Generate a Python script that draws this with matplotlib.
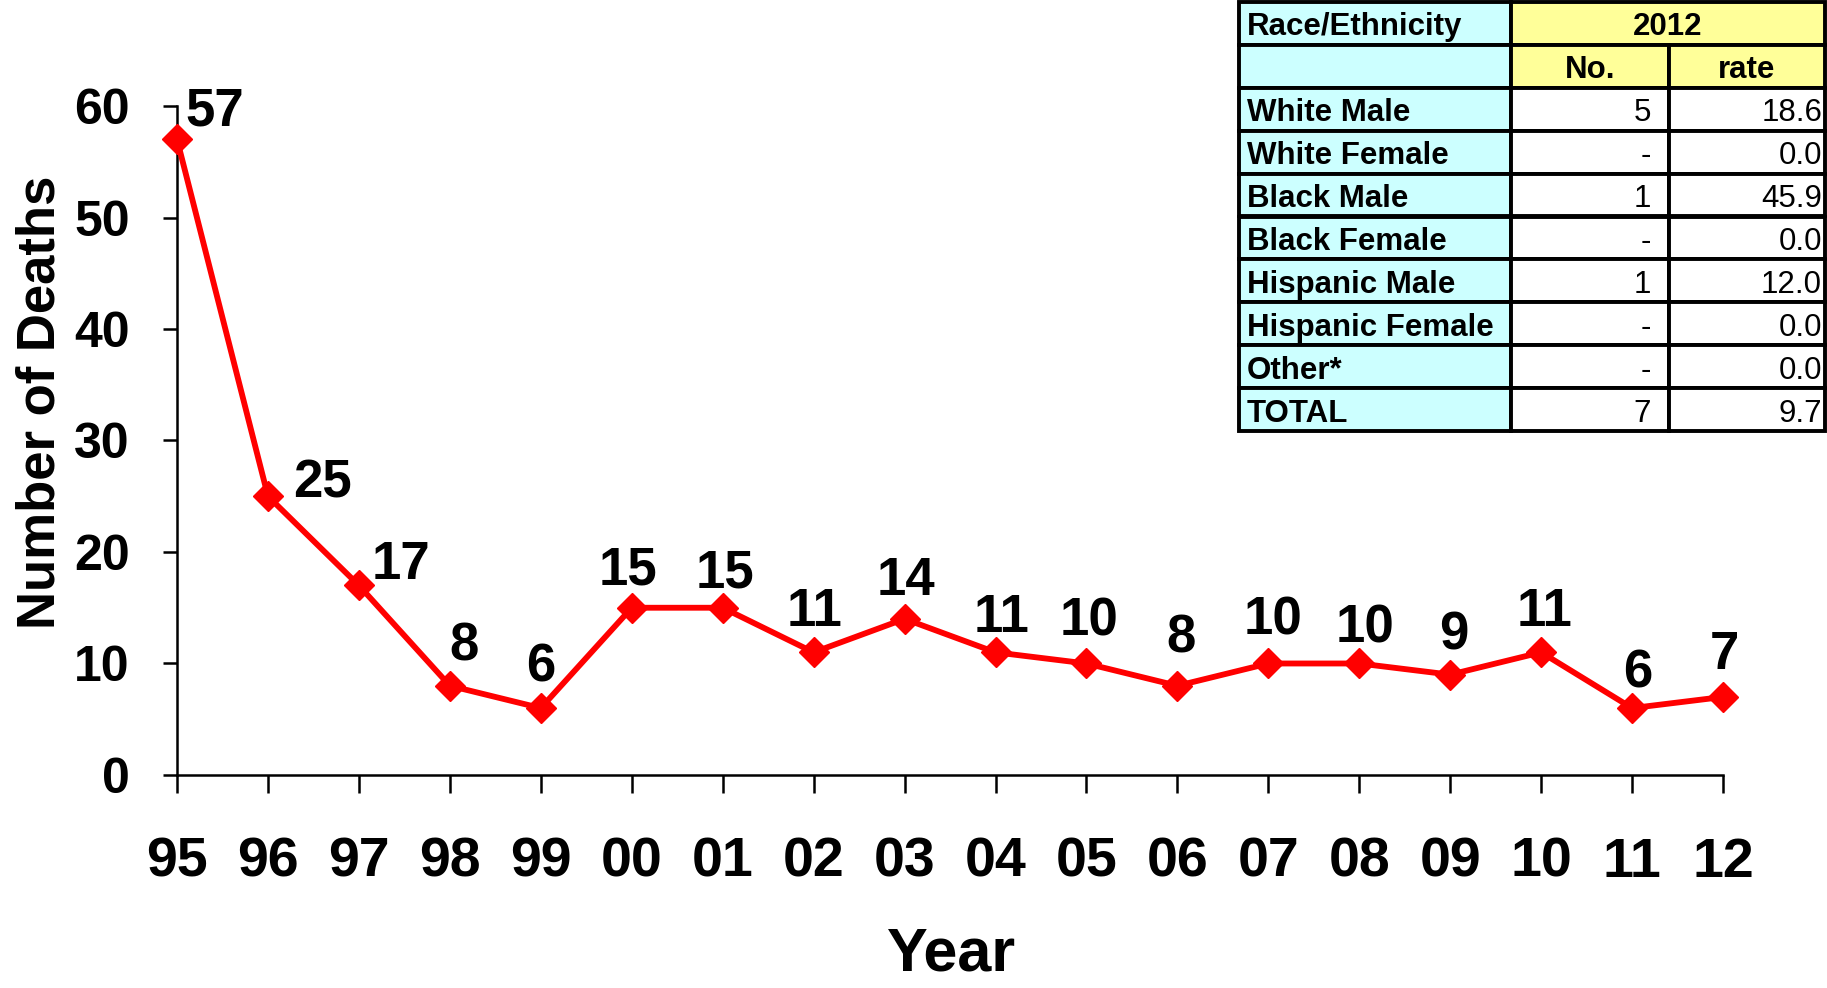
import matplotlib.pyplot as plt
from matplotlib.patches import Rectangle

plt.rcParams['font.family'] = ['Liberation Sans', 'DejaVu Sans']
plt.rcParams['font.weight'] = 'bold'

# data
years = ['95', '96', '97', '98', '99', '00', '01', '02', '03',
         '04', '05', '06', '07', '08', '09', '10', '11', '12']
deaths = [57, 25, 17, 8, 6, 15, 15, 11, 14, 11, 10, 8, 10, 10, 9, 11, 6, 7]

# table (2012)
groups = ['White Male', 'White Female', 'Black Male', 'Black Female',
          'Hispanic Male', 'Hispanic Female', 'Other*', 'TOTAL']
counts = ['5', '-', '1', '-', '1', '-', '-', '7']
rates = [18.6, 0.0, 45.9, 0.0, 12.0, 0.0, 0.0, 9.7]

# label offsets (points) for the point labels
offsets = [(27, 20), (39, 9), (30, 15), (10, 28), (0, 29), (-3, 27),
           (2, 25), (1, 29), (1, 27), (4, 25), (2, 30), (3, 34),
           (3, 31), (4, 25), (2.5, 28), (2.5, 29), (4, 25), (1, 30)]

fig = plt.figure(figsize=(18.27, 9.88), dpi=100)
ax = fig.add_axes([0.0969, 0.2156, 0.8462, 0.6771])

x = list(range(len(years)))
ax.plot(x, deaths, color='#FF0000', lw=4.2, marker='D', ms=15,
        clip_on=False, zorder=3)

for i, v in enumerate(deaths):
    ax.annotate(str(v), (i, v), xytext=offsets[i], textcoords='offset points',
                ha='center', va='center', fontsize=38, fontweight='bold')

ax.set_xlim(0, len(years) - 1)
ax.set_ylim(0, 60)
ax.set_yticks(range(0, 61, 10))
ax.set_xticks(x)
ax.set_xticklabels(years)

for s in ['top', 'right']:
    ax.spines[s].set_visible(False)
for s in ['left', 'bottom']:
    ax.spines[s].set_linewidth(1.8)

ax.tick_params(axis='y', direction='out', length=10, width=1.8, pad=24, labelsize=36)
ax.tick_params(axis='x', direction='out', length=12.6, width=1.8, pad=32, labelsize=40)

ax.set_ylabel('Number of Deaths', fontsize=38, fontweight='bold')
ax.yaxis.set_label_coords(-0.0724, 0.5575)
ax.set_xlabel('Year', fontsize=44, fontweight='bold')
ax.xaxis.set_label_coords(0.501, -0.226)

# table drawn in pixel coordinates
tab = fig.add_axes([0, 0, 1, 1], zorder=5)
tab.set_xlim(0, 1827)
tab.set_ylim(988, 0)
tab.axis('off')

col_x = [1239, 1511, 1669, 1825]
row_top = 2
row_h = (431 - 2) / 10
cyan = '#CCFFFF'
yellow = '#FFFF99'


def cell(c0, c1, r, color):
    tab.add_patch(Rectangle((col_x[c0], row_top + r * row_h),
                            col_x[c1] - col_x[c0], row_h,
                            facecolor=color, edgecolor='black', lw=2.8))


def ymid(r):
    return row_top + (r + 0.5) * row_h + 4


fs = 22.5
cell(0, 1, 0, cyan)
cell(1, 3, 0, yellow)
cell(0, 1, 1, cyan)
cell(1, 2, 1, yellow)
cell(2, 3, 1, yellow)
tab.text(col_x[0] + 8, ymid(0), 'Race/Ethnicity', ha='left', va='center', fontsize=fs)
tab.text((col_x[1] + col_x[3]) / 2, ymid(0), '2012', ha='center', va='center', fontsize=fs)
tab.text((col_x[1] + col_x[2]) / 2, ymid(1), 'No.', ha='center', va='center', fontsize=fs)
tab.text((col_x[2] + col_x[3]) / 2, ymid(1), 'rate', ha='center', va='center', fontsize=fs)

for j, g in enumerate(groups):
    r = j + 2
    cell(0, 1, r, cyan)
    cell(1, 2, r, 'white')
    cell(2, 3, r, 'white')
    tab.text(col_x[0] + 8, ymid(r), g, ha='left', va='center', fontsize=fs)
    tab.text(col_x[2] - 18, ymid(r), counts[j], ha='right', va='center',
             fontsize=fs, fontweight='normal')
    tab.text(col_x[3] - 3, ymid(r), '%.1f' % rates[j], ha='right', va='center',
             fontsize=fs, fontweight='normal')

fig.savefig('out.png', dpi=100)
